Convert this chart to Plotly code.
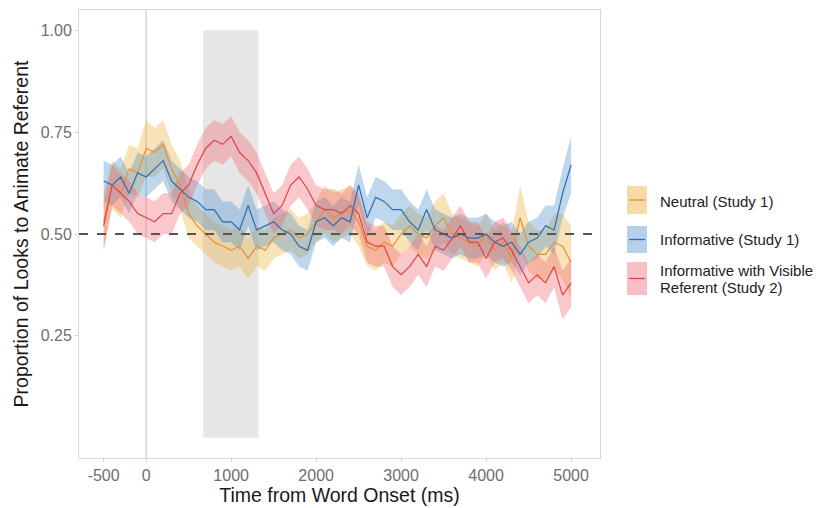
import plotly.graph_objects as go

# ---------------- data ----------------
time_ms = [-500, -400, -300, -200, -100, 0, 100, 200, 300, 400, 500, 600, 700, 800, 900,
           1000, 1100, 1200, 1300, 1400, 1500, 1600, 1700, 1800, 1900, 2000, 2100, 2200,
           2300, 2400, 2500, 2600, 2700, 2800, 2900, 3000, 3100, 3200, 3300, 3400, 3500,
           3600, 3700, 3800, 3900, 4000, 4100, 4200, 4300, 4400, 4500, 4600, 4700, 4800,
           4900, 5000]

neutral = [0.53, 0.62, 0.60, 0.66, 0.65, 0.71, 0.70, 0.72, 0.66, 0.62, 0.55, 0.52, 0.50, 0.48,
           0.47, 0.46, 0.47, 0.44, 0.47, 0.46, 0.49, 0.50, 0.51, 0.49, 0.50, 0.53, 0.56, 0.54,
           0.55, 0.56, 0.53, 0.47, 0.46, 0.48, 0.47, 0.50, 0.52, 0.50, 0.49, 0.52, 0.54, 0.50,
           0.49, 0.48, 0.47, 0.50, 0.46, 0.48, 0.44, 0.54, 0.47, 0.45, 0.45, 0.48, 0.47, 0.43]
neutral_se = [0.07, 0.06, 0.06, 0.06, 0.06, 0.07, 0.06, 0.06, 0.06, 0.06, 0.06, 0.05, 0.05, 0.05,
              0.05, 0.05, 0.05, 0.05, 0.05, 0.05, 0.05, 0.05, 0.05, 0.05, 0.05, 0.05, 0.06, 0.06,
              0.06, 0.06, 0.06, 0.05, 0.05, 0.05, 0.05, 0.05, 0.05, 0.05, 0.05, 0.06, 0.06, 0.05,
              0.05, 0.05, 0.05, 0.05, 0.05, 0.05, 0.06, 0.08, 0.06, 0.06, 0.06, 0.07, 0.08, 0.09]

informative = [0.63, 0.62, 0.64, 0.60, 0.65, 0.64, 0.66, 0.68, 0.63, 0.61, 0.59, 0.58, 0.56, 0.56,
               0.53, 0.53, 0.51, 0.57, 0.51, 0.52, 0.53, 0.51, 0.50, 0.47, 0.46, 0.53, 0.54, 0.52,
               0.54, 0.53, 0.62, 0.54, 0.59, 0.58, 0.56, 0.56, 0.53, 0.51, 0.56, 0.51, 0.50, 0.49,
               0.50, 0.49, 0.49, 0.50, 0.48, 0.47, 0.48, 0.45, 0.48, 0.49, 0.52, 0.51, 0.60, 0.67]
informative_se = [0.05, 0.05, 0.05, 0.05, 0.05, 0.05, 0.05, 0.05, 0.05, 0.05, 0.05, 0.05, 0.05,
                  0.05, 0.05, 0.05, 0.05, 0.05, 0.05, 0.05, 0.05, 0.05, 0.05, 0.05, 0.05, 0.05,
                  0.05, 0.05, 0.05, 0.05, 0.05, 0.05, 0.05, 0.05, 0.05, 0.05, 0.05, 0.05, 0.05,
                  0.05, 0.05, 0.05, 0.05, 0.05, 0.05, 0.05, 0.05, 0.05, 0.05, 0.05, 0.05, 0.05,
                  0.05, 0.06, 0.06, 0.07]

visible = [0.52, 0.62, 0.60, 0.58, 0.55, 0.54, 0.53, 0.55, 0.55, 0.60, 0.62, 0.67, 0.71, 0.73,
           0.72, 0.74, 0.70, 0.68, 0.65, 0.60, 0.55, 0.57, 0.62, 0.64, 0.61, 0.57, 0.56, 0.56,
           0.55, 0.57, 0.55, 0.48, 0.47, 0.47, 0.42, 0.40, 0.42, 0.45, 0.42, 0.47, 0.46, 0.49,
           0.52, 0.48, 0.48, 0.44, 0.48, 0.49, 0.46, 0.42, 0.38, 0.40, 0.38, 0.42, 0.35, 0.38]
visible_se = [0.06, 0.05, 0.05, 0.05, 0.05, 0.05, 0.05, 0.05, 0.05, 0.05, 0.05, 0.05, 0.05, 0.05,
              0.05, 0.05, 0.05, 0.05, 0.05, 0.05, 0.05, 0.05, 0.05, 0.05, 0.05, 0.05, 0.05, 0.05,
              0.05, 0.05, 0.05, 0.05, 0.05, 0.05, 0.05, 0.05, 0.05, 0.05, 0.05, 0.05, 0.05, 0.05,
              0.05, 0.05, 0.05, 0.05, 0.05, 0.05, 0.05, 0.05, 0.05, 0.05, 0.05, 0.05, 0.06, 0.06]

series_names = ["Neutral (Study 1)", "Informative (Study 1)",
                "Informative with Visible Referent (Study 2)"]
legend_lines = [["Neutral (Study 1)"], ["Informative (Study 1)"],
                ["Informative with Visible", "Referent (Study 2)"]]
window_start, window_end = 670, 1320
chance = 0.5
x_ticks = [-500, 0, 1000, 2000, 3000, 4000, 5000]
y_ticks = [0.25, 0.50, 0.75, 1.00]
y_tick_text = ["0.25", "0.50", "0.75", "1.00"]

# ---------------- styling ----------------
line_colors = ["#E8902E", "#2F6DAE", "#E0424C"]
fill_colors = ["rgba(235,175,55,0.36)", "rgba(75,145,205,0.36)", "rgba(240,100,112,0.36)"]
key_fill = ["#F6DBA6", "#B6D0E9", "#F8BFC5"]
FONT = "Liberation Sans, Arial"

fig = go.Figure()
all_series = [(neutral, neutral_se), (informative, informative_se), (visible, visible_se)]

# ribbons
for (vals, se), fc in zip(all_series, fill_colors):
    upper = [v + s for v, s in zip(vals, se)]
    lower = [v - s for v, s in zip(vals, se)]
    fig.add_trace(go.Scatter(x=time_ms + time_ms[::-1], y=upper + lower[::-1],
                             fill="toself", fillcolor=fc, line=dict(width=0),
                             mode="lines", hoverinfo="skip", showlegend=False))
# lines
for (vals, se), lc, nm in zip(all_series, line_colors, series_names):
    fig.add_trace(go.Scatter(x=time_ms, y=vals, mode="lines", name=nm,
                             line=dict(color=lc, width=1.2), showlegend=False))

shapes = [
    dict(type="rect", xref="x", yref="y", x0=window_start, x1=window_end, y0=0, y1=1,
         fillcolor="#E6E6E6", line=dict(width=0), layer="below"),
    dict(type="line", xref="x", yref="paper", x0=0, x1=0, y0=0, y1=1,
         line=dict(color="#D6D6D6", width=1.5), layer="below"),
    dict(type="line", xref="paper", yref="y", x0=0, x1=1, y0=chance, y1=chance,
         line=dict(color="#555555", width=2, dash="dash"), layer="above"),
]

# page body has an 8px margin, so the figure is shifted; compensate.
OFF = 8
W, H = 822 - OFF, 508 - OFF
L, T = 79 - OFF, 10 - OFF
pw, ph = 521, 448
R, B = W - L - pw, H - T - ph


def px_to_paper(px, py):
    # px, py in reference-image pixel coordinates
    return (px - OFF - L) / pw, 1 - (py - OFF - T) / ph


keys = [(186, 214, [201]), (226, 253, [240]), (262, 295, [270, 287])]
annotations = []
for i, (yt, yb, text_ys) in enumerate(keys):
    x0, y0 = px_to_paper(627, yb)
    x1, y1 = px_to_paper(647, yt)
    shapes.append(dict(type="rect", xref="paper", yref="paper", x0=x0, x1=x1, y0=y0, y1=y1,
                       fillcolor=key_fill[i], line=dict(width=0)))
    yc = (yt + yb) / 2
    lx0, ly = px_to_paper(629, yc)
    lx1, _ = px_to_paper(645, yc)
    shapes.append(dict(type="line", xref="paper", yref="paper", x0=lx0, x1=lx1, y0=ly, y1=ly,
                       line=dict(color=line_colors[i], width=1.3)))
    for txt, ty_px in zip(legend_lines[i], text_ys):
        tx, ty = px_to_paper(658, ty_px)
        annotations.append(dict(xref="paper", yref="paper", x=tx, y=ty, text=txt,
                                showarrow=False, xanchor="left", yanchor="middle", align="left",
                                font=dict(size=15, color="#222222", family=FONT)))

fig.update_layout(
    width=W, height=H,
    margin=dict(l=L, r=R, t=T, b=B),
    paper_bgcolor="white", plot_bgcolor="white",
    showlegend=False,
    shapes=shapes, annotations=annotations,
    font=dict(family=FONT, color="#222222"),
    xaxis=dict(range=[-790, 5340], tickvals=x_ticks, ticktext=[str(t) for t in x_ticks],
               showgrid=False, zeroline=False, showline=True, mirror=True,
               linecolor="#D9D9D9", linewidth=1, ticks="outside", ticklen=3,
               tickcolor="#D0D0D0", tickfont=dict(size=16, color="#6E6E6E"),
               title=dict(text="Time from Word Onset (ms)", font=dict(size=19.5, color="#1A1A1A"),
                          standoff=2)),
    yaxis=dict(range=[-0.05, 1.05], tickvals=y_ticks, ticktext=y_tick_text,
               showgrid=False, zeroline=False, showline=True, mirror=True,
               linecolor="#D9D9D9", linewidth=1, ticks="outside", ticklen=3,
               tickcolor="#D0D0D0", tickfont=dict(size=16, color="#6E6E6E"),
               title=dict(text="Proportion of Looks to Animate Referent",
                          font=dict(size=19.5, color="#1A1A1A"), standoff=6)),
)

fig.write_html("out.html")
